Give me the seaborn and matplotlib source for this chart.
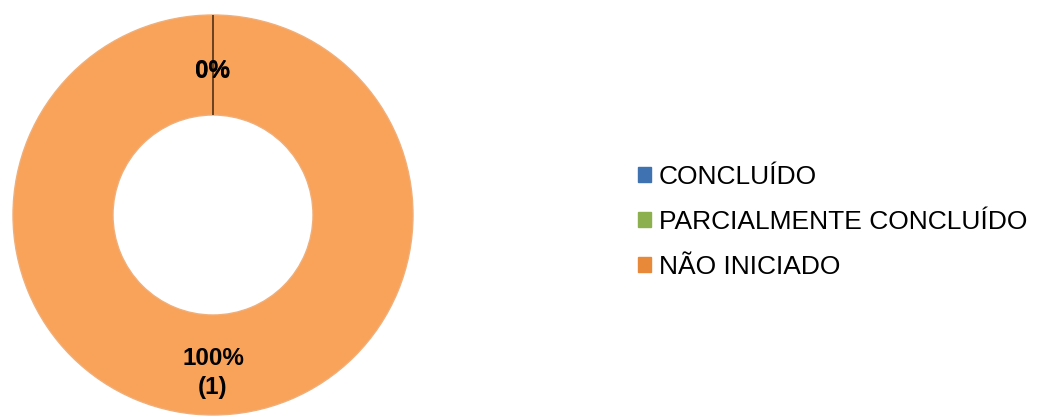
import numpy as np
import matplotlib
matplotlib.use("Agg")
import matplotlib.pyplot as plt
import seaborn as sns
from matplotlib.patches import Patch

sns.set_theme(style="white")
plt.rcParams['font.family'] = ['Liberation Sans', 'DejaVu Sans']

# data
categories = ["CONCLUÍDO", "PARCIALMENTE CONCLUÍDO", "NÃO INICIADO"]
counts = [0, 0, 1]
colors = ["#4F81BD", "#9BBB59", "#F9A25A"]
legend_colors = ["#3F72B0", "#8DB04E", "#E8893A"]

total = sum(counts)
ring_w = 0.5

fig = plt.figure(figsize=(10.38, 4.19), dpi=100)
fig.patch.set_facecolor("white")
ax = fig.add_axes([13 / 1038, 4 / 419, 400 / 1038, 400 / 419])

wedges, _ = ax.pie(counts, colors=colors, startangle=90, counterclock=False,
                   wedgeprops=dict(width=ring_w, linewidth=1.0, edgecolor="#F0AE78"))

# zero-size slices show up as a thin dark radial line
for w, c in zip(wedges, counts):
    if c == 0:
        a = np.deg2rad(w.theta1)
        ax.plot([(1 - ring_w) * np.cos(a), np.cos(a)],
                [(1 - ring_w) * np.sin(a), np.sin(a)],
                color="#6B4420", lw=1.3, solid_capstyle="butt")

# labels at wedge mid-angles
for w, c in zip(wedges, counts):
    ang = np.deg2rad((w.theta1 + w.theta2) / 2)
    pct = 100 * c / total
    if c == 0:
        txt = f"{pct:.0f}%"
        r = 0.72
    else:
        txt = f"{pct:.0f}%\n({c})"
        r = 0.79
    ax.text(r * np.cos(ang), r * np.sin(ang), txt, ha="center", va="center",
            fontsize=17.5, fontweight="bold", color="black", linespacing=1.35)

ax.set_xlim(-1, 1)
ax.set_ylim(-1, 1)
ax.set_aspect("equal")
ax.axis("off")

handles = [Patch(facecolor=c, edgecolor=c) for c in legend_colors]
leg = fig.legend(handles, categories, loc="center left",
                 bbox_to_anchor=(638 / 1038, 1 - 222 / 419), frameon=False,
                 fontsize=19, handlelength=0.5, handleheight=0.5,
                 handletextpad=0.3, labelspacing=0.8, borderaxespad=0,
                 borderpad=0)
for t in leg.get_texts():
    t.set_color("black")

fig.savefig("out.png", dpi=100, facecolor="white")
